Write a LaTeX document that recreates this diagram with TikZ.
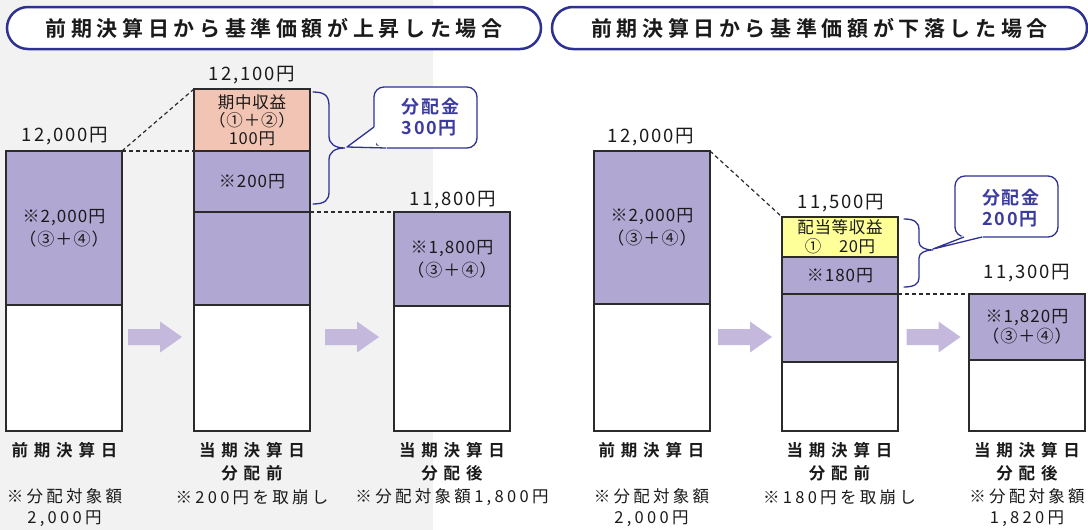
\documentclass[tikz,border=0pt]{standalone}
\usepackage{fontspec}
\setmainfont{Noto Sans CJK JP}[BoldFont={Noto Sans CJK JP Bold}]
\definecolor{bggray}{HTML}{F2F2F2}
\definecolor{purp}{HTML}{B1A7D3}
\definecolor{salmon}{HTML}{F2C4B4}
\definecolor{yel}{HTML}{FFFF99}
\definecolor{arrowc}{HTML}{C4B9DC}
\definecolor{navy}{HTML}{2E3192}
\definecolor{calltext}{HTML}{3C3CA0}
\definecolor{edge}{HTML}{2B2B2B}
\definecolor{txt}{HTML}{1A1A1A}
\newcommand\fs[3]{\fontsize{#1}{#2}\selectfont\addfontfeature{LetterSpace=#3}}
\begin{document}
\begin{tikzpicture}[x=1pt,y=-1pt,
  seg/.style={draw=edge,line width=1.5pt,inner sep=0pt,outer sep=0pt,minimum width=116pt,anchor=north west,align=center,text=txt,font=\fs{17}{23}{6}},
  val/.style={font=\fs{18.5}{20}{10},text=txt,inner sep=0pt},
  blab/.style={font=\bfseries\fs{16.5}{23}{35},text=txt,align=center,inner sep=0pt},
  note/.style={font=\fs{16.5}{21}{20},text=txt,align=center,inner sep=0pt},
  pill/.style={draw=navy,line width=2.5pt,fill=white,rounded corners=21pt,minimum height=42pt,inner sep=0pt,text=txt,font=\bfseries\fs{21}{24}{22}},
  callbox/.style={draw=navy,line width=1.3pt,fill=white,rounded corners=10pt,inner sep=0pt},
  calltxt/.style={text=calltext,font=\bfseries\fs{18}{21}{10},align=left,inner sep=0pt},
  brc/.style={draw=navy,line width=1.3pt,line cap=round},
  dashl/.style={draw=edge,line width=1.2pt,dash pattern=on 4pt off 3pt},
  tail/.style={draw=navy,line width=1.3pt,line join=round},
  arr/.style={fill=arrowc}]
\useasboundingbox (0,0) rectangle (1088,530);
\fill[white] (0,0) rectangle (1088,530);
\fill[bggray] (0,0) rectangle (433,530);

% titles
\node[pill,minimum width=534pt] (t1) at (274,28) {前期決算日から基準価額が上昇した場合};
\node[pill,minimum width=535pt] (t2) at (819.5,28) {前期決算日から基準価額が下落した場合};

% bar 1
\node[seg,fill=purp,minimum height=154pt] (b1p) at (6,151) {※2,000円\\（③＋④）};
\node[seg,fill=white,minimum height=126pt] (b1w) at (6,305) {};
% bar 2
\node[seg,fill=salmon,minimum height=62pt,font=\fs{16.5}{18}{5}] (b2s) at (194,89) {期中収益\\（①＋②）\\100円};
\node[seg,fill=purp,minimum height=61pt] (b2m) at (194,151) {※200円};
\node[seg,fill=purp,minimum height=93pt] (b2p) at (194,212) {};
\node[seg,fill=white,minimum height=126pt] (b2w) at (194,305) {};
% bar 3
\node[seg,fill=purp,minimum height=94pt] (b3p) at (394,212) {※1,800円\\（③＋④）};
\node[seg,fill=white,minimum height=125pt] (b3w) at (394,306) {};
% bar 4
\node[seg,fill=purp,minimum height=153pt] (b4p) at (594,151) {※2,000円\\（③＋④）};
\node[seg,fill=white,minimum height=127pt] (b4w) at (594,304) {};
% bar 5
\node[seg,fill=yel,minimum height=40pt,font=\fs{16.5}{19}{4}] (b5y) at (782,217) {配当等収益\\①　20円};
\node[seg,fill=purp,minimum height=37pt] (b5m) at (782,257) {※180円};
\node[seg,fill=purp,minimum height=68pt] (b5p) at (782,294) {};
\node[seg,fill=white,minimum height=69pt] (b5w) at (782,362) {};
% bar 6
\node[seg,fill=purp,minimum height=66pt,font=\fs{17}{20}{6}] (b6p) at (969,294) {※1,820円\\（③＋④）};
\node[seg,fill=white,minimum height=71pt] (b6w) at (969,360) {};

% dashed connectors
\draw[dashl] (b1p.north east) -- (b2s.north west);
\draw[dashl] (b1p.north east) -- (b2m.north west);
\draw[dashl] (b2m.south east) -- (b3p.north west);
\draw[dashl] (b4p.north east) -- (b5y.north west);
\draw[dashl] (b5m.south east) -- (b6p.north west);

% value labels
\node[val] (v1) at (65,136) {12,000円};
\node[val] (v2) at (252,75) {12,100円};
\node[val] (v3) at (453,200) {11,800円};
\node[val] (v4) at (651,137) {12,000円};
\node[val] (v5) at (841,203) {11,500円};
\node[val] (v6) at (1027,273) {11,300円};

% callout 1
\node[callbox,minimum width=103pt,minimum height=61pt] (c1) at (425.5,117.5) {};
\coordinate (k1) at (347,147);
\coordinate (k1a) at (374,127);
\coordinate (k1b) at (386,148);
\fill[white] (k1) -- (373.5,127) -- (376,127) -- (376,145.5) -- (386.5,145.5) -- (386.5,149) -- cycle;
\draw[tail] (k1a) -- (k1) -- (k1b);
\node[calltxt] (c1t) at (430.5,117.5) {分配金\\300円};
% callout 2
\node[callbox,minimum width=103pt,minimum height=61pt] (c2) at (1006.5,206.5) {};
\coordinate (k2) at (933,249);
\coordinate (k2a) at (964,237);
\coordinate (k2b) at (982,237);
\fill[white] (k2) -- (963.5,235.5) -- (982.5,235.5) -- (982.5,238) -- cycle;
\draw[tail] (k2a) -- (k2) -- (k2b);
\node[calltxt] (c2t) at (1011,208) {分配金\\200円};

% braces
\coordinate (r1a) at (313,92);
\coordinate (r1b) at (313,204);
\draw[brc] (r1a) .. controls (325,92) and (329,96) .. (329,106) -- (329,136)
  .. controls (329,144) and (335,148) .. (345,148)
  .. controls (335,148) and (329,152) .. (329,160) -- (329,192)
  .. controls (329,200) and (325,204) .. (r1b);
\coordinate (r2a) at (904,219);
\coordinate (r2b) at (904,287);
\draw[brc] (r2a) .. controls (914,219) and (919,222) .. (919,230) -- (919,242)
  .. controls (919,247) and (925,250) .. (933,250)
  .. controls (925,250) and (919,253) .. (919,258) -- (919,278)
  .. controls (919,284) and (914,287) .. (r2b);

% block arrows
\foreach \cx in {155,352,745,933.5}{
  \fill[arr,shift={(\cx,337)}] (-27,-8) -- (5,-8) -- (5,-15.5) -- (27,0) -- (5,15.5) -- (5,8) -- (-27,8) -- cycle;
}

% bottom labels
\node[blab] (l1a) at (64.5,450) {前期決算日};
\node[note] (l1b) at (64.5,507.5) {※分配対象額\\2,000円};
\node[blab] (l2a) at (252,461.5) {当期決算日\\分配前};
\node[note] (l2b) at (252,497) {※200円を取崩し};
\node[blab] (l3a) at (452,461.5) {当期決算日\\分配後};
\node[note] (l3b) at (452,497) {※分配対象額1,800円};
\node[blab] (l4a) at (651.5,450) {前期決算日};
\node[note] (l4b) at (651.5,507.5) {※分配対象額\\2,000円};
\node[blab] (l5a) at (839.5,461.5) {当期決算日\\分配前};
\node[note] (l5b) at (839.5,497) {※180円を取崩し};
\node[blab] (l6a) at (1027,461.5) {当期決算日\\分配後};
\node[note] (l6b) at (1027,507.5) {※分配対象額\\1,820円};
\end{tikzpicture}
\end{document}
